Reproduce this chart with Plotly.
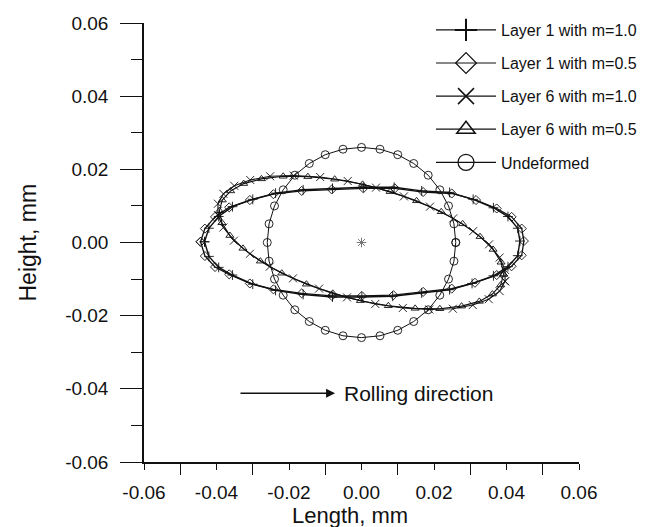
import plotly.graph_objects as go

# ---------------- data ----------------
series_names = ["Layer 1 with m=1.0", "Layer 1 with m=0.5", "Layer 6 with m=1.0",
                "Layer 6 with m=0.5", "Undeformed"]

l1_m10_x = [-0.0433, -0.0421, -0.0394, -0.0356, -0.0300, -0.0237, -0.0161, -0.0080,
            0.0005, 0.0090, 0.0166, 0.0243, 0.0308, 0.0364, 0.0404, 0.0431,
            0.0437, 0.0431, 0.0404, 0.0364, 0.0305, 0.0243, 0.0166, 0.0086,
            0.0001, -0.0080, -0.0161, -0.0237, -0.0300, -0.0356, -0.0394, -0.0421, -0.0433]
l1_m10_y = [0.0002, 0.0039, 0.0071, 0.0098, 0.0118, 0.0135, 0.0144, 0.0148,
            0.0151, 0.0151, 0.0141, 0.0137, 0.0118, 0.0095, 0.0071, 0.0039,
            0.0004, -0.0036, -0.0066, -0.0091, -0.0112, -0.0129, -0.0138, -0.0147,
            -0.0149, -0.0149, -0.0142, -0.0131, -0.0114, -0.0089, -0.0068, -0.0038, 0.0002]

l1_m05_x = [-0.0444, -0.0432, -0.0404, -0.0365, -0.0308, -0.0243, -0.0165, -0.0082,
            0.0005, 0.0092, 0.0170, 0.0249, 0.0316, 0.0373, 0.0414, 0.0442,
            0.0448, 0.0442, 0.0414, 0.0373, 0.0313, 0.0249, 0.0170, 0.0088,
            0.0001, -0.0082, -0.0165, -0.0243, -0.0308, -0.0365, -0.0404, -0.0432, -0.0444]
l1_m05_y = [0.0002, 0.0038, 0.0070, 0.0096, 0.0116, 0.0132, 0.0141, 0.0145,
            0.0148, 0.0148, 0.0138, 0.0134, 0.0116, 0.0093, 0.0070, 0.0038,
            0.0004, -0.0035, -0.0065, -0.0089, -0.0110, -0.0126, -0.0135, -0.0144,
            -0.0146, -0.0146, -0.0139, -0.0128, -0.0112, -0.0087, -0.0067, -0.0037, 0.0002]

l6_m10_x = [0.0396, 0.0396, 0.0381, 0.0352, 0.0308, 0.0253, 0.0189, 0.0117,
            0.0040, -0.0038, -0.0114, -0.0187, -0.0252, -0.0307, -0.0351, -0.0381,
            -0.0396, -0.0396, -0.0381, -0.0352, -0.0308, -0.0253, -0.0189, -0.0117,
            -0.0040, 0.0038, 0.0114, 0.0187, 0.0252, 0.0307, 0.0351, 0.0381, 0.0396]
l6_m10_y = [-0.0106, -0.0075, -0.0041, -0.0005, 0.0031, 0.0066, 0.0098, 0.0126,
            0.0150, 0.0168, 0.0179, 0.0183, 0.0181, 0.0171, 0.0155, 0.0133,
            0.0106, 0.0075, 0.0041, 0.0005, -0.0031, -0.0066, -0.0098, -0.0126,
            -0.0150, -0.0168, -0.0179, -0.0183, -0.0181, -0.0171, -0.0155, -0.0133, -0.0106]

l6_m05_x = [0.0392, 0.0385, 0.0363, 0.0327, 0.0279, 0.0220, 0.0152, 0.0079,
            0.0003, -0.0074, -0.0148, -0.0216, -0.0276, -0.0325, -0.0361, -0.0384,
            -0.0392, -0.0385, -0.0363, -0.0327, -0.0279, -0.0220, -0.0152, -0.0079,
            -0.0003, 0.0074, 0.0148, 0.0216, 0.0276, 0.0325, 0.0361, 0.0384, 0.0392]
l6_m05_y = [-0.0087, -0.0054, -0.0019, 0.0016, 0.0051, 0.0084, 0.0114, 0.0139,
            0.0159, 0.0173, 0.0180, 0.0181, 0.0174, 0.0161, 0.0141, 0.0116,
            0.0087, 0.0054, 0.0019, -0.0016, -0.0051, -0.0084, -0.0114, -0.0139,
            -0.0159, -0.0173, -0.0180, -0.0181, -0.0174, -0.0161, -0.0141, -0.0116, -0.0087]

undef_x = [0.0260, 0.0255, 0.0240, 0.0216, 0.0184, 0.0144, 0.0100, 0.0051,
           0.0000, -0.0051, -0.0100, -0.0144, -0.0184, -0.0216, -0.0240, -0.0255,
           -0.0260, -0.0255, -0.0240, -0.0216, -0.0184, -0.0144, -0.0100, -0.0051,
           0.0000, 0.0051, 0.0100, 0.0144, 0.0184, 0.0216, 0.0240, 0.0255, 0.0260]
undef_y = [0.0000, 0.0051, 0.0100, 0.0144, 0.0184, 0.0216, 0.0240, 0.0255,
           0.0260, 0.0255, 0.0240, 0.0216, 0.0184, 0.0144, 0.0100, 0.0051,
           0.0000, -0.0051, -0.0100, -0.0144, -0.0184, -0.0216, -0.0240, -0.0255,
           -0.0260, -0.0255, -0.0240, -0.0216, -0.0184, -0.0144, -0.0100, -0.0051, 0.0000]

center_x = [0.0]
center_y = [0.0]

tick_vals = [-0.06, -0.04, -0.02, 0.00, 0.02, 0.04, 0.06]
tick_text = ["-0.06", "-0.04", "-0.02", "0.00", "0.02", "0.04", "0.06"]

arrow_start = (-0.0338, -0.0412)
arrow_end = (-0.0073, -0.0412)
arrow_label = "Rolling direction"

# ---------------- figure ----------------
FONT = "Liberation Sans, Arial, Helvetica, sans-serif"
BLACK = "#111111"

# the page body has an 8px margin; the figure is sized to fit the 648x527 window
W, H = 640, 519
ML, MR, MT, MB = 136, 69, 15, 65
PW, PH = W - ML - MR, H - MT - MB


def px_to_paper_x(px):
    return (px - 8 - ML) / PW


def px_to_paper_y(py):
    return (H - MB - (py - 8)) / PH


xs = [l1_m10_x, l1_m05_x, l6_m10_x, l6_m05_x, undef_x]
ys = [l1_m10_y, l1_m05_y, l6_m10_y, l6_m05_y, undef_y]
symbols = ["cross-thin-open", "diamond-open", "x-thin-open", "triangle-up-open", "circle-open"]
sizes = [7, 7, 8, 7, 8]
leg_sizes = [16, 16, 16, 16, 16]
leg_lw = [2, 1.2, 1.5, 1.5, 1.2]
line_w = [1.4, 1.3, 1.1, 1.1, 1.0]

fig = go.Figure()
for i in range(5):
    fig.add_trace(go.Scatter(
        x=xs[i], y=ys[i], mode="lines+markers", name=series_names[i],
        line=dict(color=BLACK, width=line_w[i]),
        marker=dict(symbol=symbols[i], size=sizes[i], color=BLACK,
                    line=dict(color=BLACK, width=0.9)),
        showlegend=False,
    ))

# legend-only entries (bigger legend symbols)
for i in range(5):
    fig.add_trace(go.Scatter(
        x=[None], y=[None], mode="lines+markers", name=series_names[i],
        line=dict(color=BLACK, width=1.2),
        marker=dict(symbol=symbols[i], size=leg_sizes[i], color=BLACK,
                    line=dict(color=BLACK, width=leg_lw[i])),
        legendgroup="g%d" % i, showlegend=True,
    ))

fig.add_trace(go.Scatter(
    x=center_x, y=center_y, mode="markers", showlegend=False,
    marker=dict(symbol="asterisk-open", size=8, color="#777777",
                line=dict(color="#777777", width=1)),
))

axis_common = dict(
    range=[-0.06, 0.06], showgrid=False, zeroline=False,
    showline=True, linecolor=BLACK, linewidth=1.5,
    ticks="outside", tickcolor=BLACK, tickwidth=1.3,
    tickmode="array", tickvals=tick_vals, ticktext=tick_text,
    tickfont=dict(family=FONT, size=19, color=BLACK),
    automargin=False,
)

fig.update_xaxes(**axis_common, ticklen=6, ticklabelstandoff=6,
                 minor=dict(tickmode="linear", tick0=-0.05, dtick=0.02,
                            ticks="outside", ticklen=11, tickcolor=BLACK, tickwidth=1.3))
fig.update_yaxes(**axis_common, ticklen=22, ticklabelstandoff=8,
                 minor=dict(tickmode="linear", tick0=-0.05, dtick=0.02,
                            ticks="outside", ticklen=11, tickcolor=BLACK, tickwidth=1.3))

fig.add_annotation(x=arrow_end[0], y=arrow_end[1], ax=arrow_start[0], ay=arrow_start[1],
                   xref="x", yref="y", axref="x", ayref="y", text="",
                   showarrow=True, arrowhead=2, arrowsize=1.2, arrowwidth=1.5,
                   arrowcolor=BLACK)
fig.add_annotation(x=arrow_end[0] + 0.0018, y=arrow_end[1], xref="x", yref="y",
                   text=arrow_label, showarrow=False, xanchor="left", yanchor="middle",
                   font=dict(family=FONT, size=21, color=BLACK))

fig.add_annotation(x=px_to_paper_x(350), y=px_to_paper_y(515), xref="paper", yref="paper",
                   text="Length, mm", showarrow=False, xanchor="center", yanchor="middle",
                   font=dict(family=FONT, size=22, color=BLACK))
fig.add_annotation(x=px_to_paper_x(27), y=0.5, xref="paper", yref="paper",
                   text="Height, mm", showarrow=False, textangle=-90,
                   xanchor="center", yanchor="middle",
                   font=dict(family=FONT, size=23, color=BLACK))

fig.update_layout(
    width=W, height=H,
    margin=dict(l=ML, r=MR, t=MT, b=MB, pad=0, autoexpand=False),
    paper_bgcolor="white", plot_bgcolor="white",
    font=dict(family=FONT, color=BLACK),
    legend=dict(x=px_to_paper_x(431), y=px_to_paper_y(13), xanchor="left", yanchor="top",
                font=dict(family=FONT, size=16, color=BLACK),
                bgcolor="rgba(0,0,0,0)", tracegroupgap=9.3, itemwidth=60,
                itemclick=False),
)

fig.write_html("out.html")
